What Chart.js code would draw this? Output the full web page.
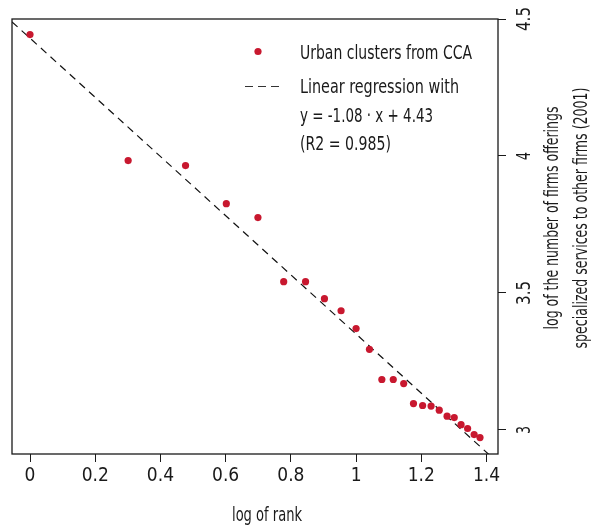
<!DOCTYPE html>
<html>
<head>
<meta charset="utf-8">
<script src="https://cdn.jsdelivr.net/npm/chart.js@4"></script>
<style>
  html, body { margin: 0; padding: 0; background: #fff; }
  #wrap { width: 595px; height: 531px; }
</style>
</head>
<body>
<div id="wrap"><canvas id="rankChart"></canvas></div>
<script>
// log10 of rank vs log10 of number of firms
const logRank = [0, 0.301, 0.477, 0.602, 0.699, 0.778, 0.845, 0.903, 0.954, 1.0, 1.041, 1.079,
  1.114, 1.146, 1.176, 1.204, 1.230, 1.255, 1.279, 1.301, 1.322, 1.342, 1.362, 1.380];
const logFirms = [4.443, 3.983, 3.965, 3.826, 3.775, 3.541, 3.541, 3.479, 3.435, 3.370, 3.294, 3.184,
  3.184, 3.169, 3.096, 3.089, 3.087, 3.072, 3.050, 3.045, 3.019, 3.005, 2.983, 2.972];
const slope = -1.08;
const intercept = 4.43;
const xTicks = [0, 0.2, 0.4, 0.6, 0.8, 1, 1.2, 1.4];
const yTicks = [3, 3.5, 4, 4.5];
const legendLines = ['Urban clusters from CCA', 'Linear regression with', 'y = -1.08 \u00b7 x + 4.43', '(R2 = 0.985)'];
const yTitle = ['log of the number of firms offerings', 'specialized services to other firms (2001)'];
const xTitle = 'log of rank';

const FONT = '"Liberation Sans Narrow", "DejaVu Sans Condensed", "Roboto", sans-serif';
const RED = '#c8182f';
const INK = '#1a1a1a';
const xMin = -0.0552, xMax = 1.4352;
const yMin = 2.912, yMax = 4.5;

const points = logRank.map((x, i) => ({ x: x, y: logFirms[i] }));
const fitLine = [xMin, xMax].map(x => ({ x: x, y: slope * x + intercept }));

// no condensed face installed, so squeeze text to the width it takes in the original
function fitText(ctx, text, x, y, width) {
  const w = ctx.measureText(text).width;
  ctx.save();
  ctx.translate(x, y);
  ctx.scale(Math.min(1, width / w), 1);
  ctx.fillText(text, 0, 0);
  ctx.restore();
}

// frame, rotated y labels, titles and legend
const extras = {
  id: 'extras',
  afterDraw(chart) {
    const { ctx, chartArea: { left, top, right, bottom } } = chart;
    const yScale = chart.scales.y;
    ctx.save();
    ctx.strokeStyle = INK;
    ctx.lineWidth = 1.3;
    ctx.strokeRect(left, top, right - left, bottom - top);

    ctx.fillStyle = INK;
    ctx.font = '19px ' + FONT;
    ctx.textAlign = 'center';
    ctx.textBaseline = 'middle';
    yTicks.forEach(v => {
      ctx.save();
      ctx.translate(525, yScale.getPixelForValue(v));
      ctx.rotate(-Math.PI / 2);
      fitText(ctx, String(v), 0, 0, String(v).length * 8);
      ctx.restore();
    });

    ctx.font = '20px ' + FONT;
    ctx.textBaseline = 'alphabetic';
    [[558, 223], [587, 261]].forEach(([bx, w], i) => {
      ctx.save();
      ctx.translate(bx, 218);
      ctx.rotate(-Math.PI / 2);
      fitText(ctx, yTitle[i], 0, 0, w);
      ctx.restore();
    });
    fitText(ctx, xTitle, 267, 521, 70);

    // legend
    ctx.fillStyle = RED;
    ctx.beginPath();
    ctx.arc(258, 51.5, 3.6, 0, Math.PI * 2);
    ctx.fill();
    ctx.strokeStyle = '#333';
    ctx.lineWidth = 1.2;
    ctx.setLineDash([8, 5]);
    ctx.beginPath();
    ctx.moveTo(245, 86.5);
    ctx.lineTo(281, 86.5);
    ctx.stroke();
    ctx.setLineDash([]);
    ctx.fillStyle = INK;
    ctx.textAlign = 'left';
    [[59, 172], [93, 159], [122, 133], [150, 91]].forEach(([by, w], i) => fitText(ctx, legendLines[i], 300, by, w));
    ctx.restore();
  }
};

new Chart(document.getElementById('rankChart'), {
  type: 'scatter',
  data: {
    datasets: [{
      label: legendLines[0],
      data: points,
      backgroundColor: RED,
      borderWidth: 0,
      pointRadius: 3.6,
      pointHoverRadius: 3.6
    }, {
      type: 'line',
      label: 'Linear regression',
      data: fitLine,
      borderColor: '#111',
      borderWidth: 1.2,
      borderDash: [7.5, 5.5],
      pointRadius: 0,
      fill: false
    }]
  },
  options: {
    responsive: true,
    maintainAspectRatio: false,
    animation: false,
    layout: { padding: { left: 12, top: 19, right: 0, bottom: 0 } },
    plugins: {
      legend: { display: false },
      tooltip: { enabled: false }
    },
    scales: {
      x: {
        type: 'linear',
        min: xMin,
        max: xMax,
        afterBuildTicks: s => { s.ticks = xTicks.map(v => ({ value: v })); },
        afterFit: s => { s.height = 77; },
        border: { display: false },
        grid: { drawOnChartArea: false, drawTicks: true, tickLength: 8, color: INK },
        ticks: {
          autoSkip: false,
          maxRotation: 0,
          padding: 3,
          color: INK,
          font: { family: FONT, size: 19 },
          callback: v => String(+v.toFixed(1))
        }
      },
      y: {
        type: 'linear',
        position: 'right',
        min: yMin,
        max: yMax,
        afterBuildTicks: s => { s.ticks = yTicks.map(v => ({ value: v })); },
        afterFit: s => { s.width = 97; },
        border: { display: false },
        grid: { drawOnChartArea: false, drawTicks: true, tickLength: 8, color: INK },
        ticks: { display: false }
      }
    }
  },
  plugins: [extras]
});
</script>
</body>
</html>
